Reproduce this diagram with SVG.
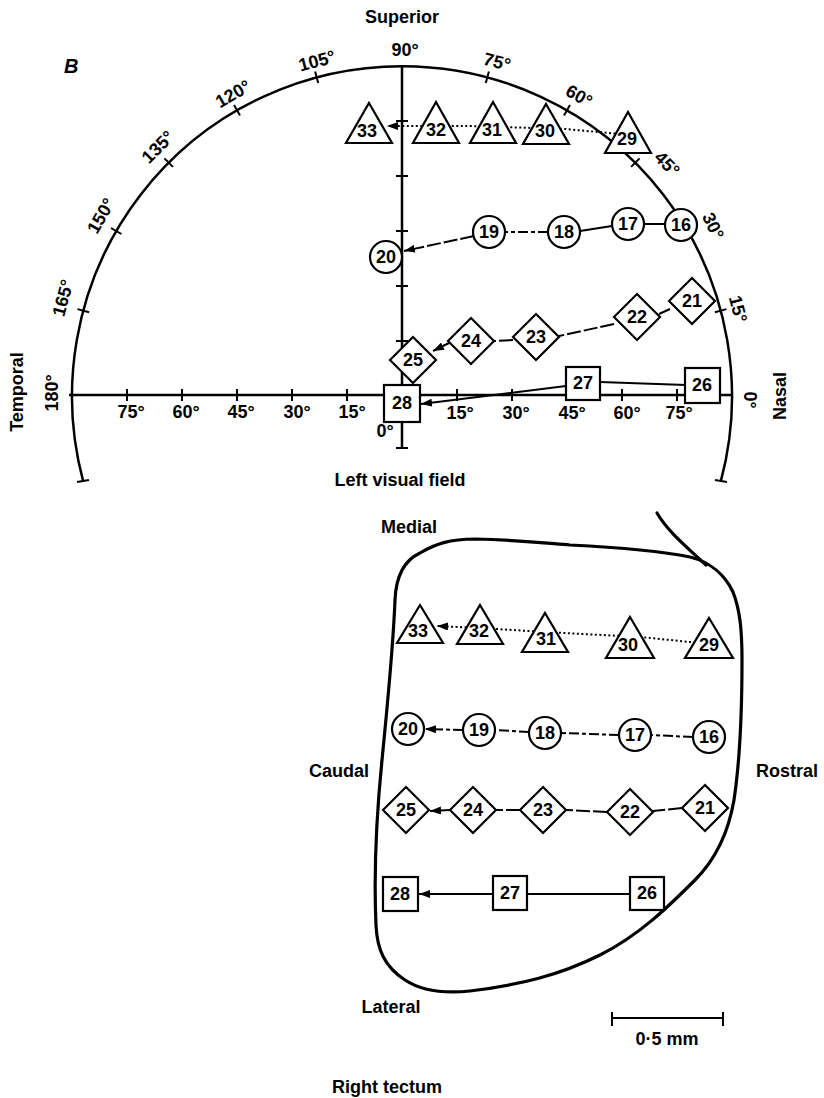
<svg xmlns="http://www.w3.org/2000/svg" width="824" height="1098" viewBox="0 0 824 1098">
<defs>
<style>
.t{font-family:"Liberation Sans",Arial,sans-serif;font-weight:bold;fill:#000}
.lbl{font-size:18px}
.deg{font-size:18px;text-anchor:middle;dominant-baseline:central}
.num{font-size:18px;text-anchor:middle;dominant-baseline:central}
.node{fill:#fff;stroke:#000;stroke-width:2.2}
.ax{stroke:#000;stroke-width:2.5;fill:none}
.tick{stroke:#000;stroke-width:2;fill:none}
.con{stroke:#000;stroke-width:2;fill:none}
.dot{stroke-dasharray:2 2.5}
.dd{stroke-dasharray:10 3 4 3}
.da{stroke-dasharray:14 3}
.outline{stroke:#000;stroke-width:3.2;fill:none;stroke-linejoin:round;stroke-linecap:round}
</style>
<marker id="ah" markerUnits="userSpaceOnUse" markerWidth="11" markerHeight="8" refX="11" refY="4" orient="auto">
<path d="M0,0 L11,4 L0,8 z" fill="#000"/>
</marker>
</defs>
<rect width="824" height="1098" fill="#fff"/>

<!-- Visual field chart -->
<g id="field-chart">
<path class="ax" d="M83.2,481.4 A330,330 0 1 1 720.8,481.4"/>
<line class="ax" x1="69" y1="395" x2="732" y2="395"/>
<line class="ax" x1="402" y1="66" x2="402" y2="448"/>
<g class="tick">
<line x1="396" y1="448" x2="408" y2="448"/>
<line x1="77" y1="482" x2="89" y2="480"/>
<line x1="715" y1="480" x2="727" y2="482"/>
<line x1="396" y1="121" x2="408" y2="121"/>
<line x1="396" y1="176" x2="408" y2="176"/>
<line x1="396" y1="231" x2="408" y2="231"/>
<line x1="396" y1="286" x2="408" y2="286"/>
<line x1="396" y1="341" x2="408" y2="341"/>
<line x1="127" y1="389" x2="127" y2="401"/>
<line x1="182" y1="389" x2="182" y2="401"/>
<line x1="237" y1="389" x2="237" y2="401"/>
<line x1="292" y1="389" x2="292" y2="401"/>
<line x1="347" y1="389" x2="347" y2="401"/>
<line x1="457" y1="389" x2="457" y2="401"/>
<line x1="512" y1="389" x2="512" y2="401"/>
<line x1="567" y1="389" x2="567" y2="401"/>
<line x1="622" y1="389" x2="622" y2="401"/>
<line x1="677" y1="389" x2="677" y2="401"/>
<line x1="714.9" y1="312.2" x2="726.5" y2="309.1"/>
<line x1="682.6" y1="234" x2="693" y2="228"/>
<line x1="631.1" y1="166.9" x2="639.6" y2="158.4"/>
<line x1="564" y1="115.4" x2="570" y2="105"/>
<line x1="485.8" y1="83.1" x2="488.9" y2="71.5"/>
<line x1="318.2" y1="83.1" x2="315.1" y2="71.5"/>
<line x1="240" y1="115.4" x2="234" y2="105"/>
<line x1="172.9" y1="166.9" x2="164.4" y2="158.4"/>
<line x1="121.4" y1="234" x2="111" y2="228"/>
<line x1="89.1" y1="312.2" x2="77.5" y2="309.1"/>
</g>
<g class="t deg">
<text x="405" y="50">90°</text>
<text transform="translate(317,61) rotate(-15)">105°</text>
<text transform="translate(233,94) rotate(-30)">120°</text>
<text transform="translate(158,147) rotate(-45)">135°</text>
<text transform="translate(101,216) rotate(-60)">150°</text>
<text transform="translate(63,298) rotate(-75)">165°</text>
<text transform="translate(52,393) rotate(-90)">180°</text>
<text transform="translate(497,62) rotate(15)">75°</text>
<text transform="translate(579,96) rotate(30)">60°</text>
<text transform="translate(667,164) rotate(45)">45°</text>
<text transform="translate(713,226) rotate(65)">30°</text>
<text transform="translate(738,309) rotate(75)">15°</text>
<text transform="translate(750,400) rotate(90)">0°</text>
<text x="131" y="412">75°</text>
<text x="186" y="412">60°</text>
<text x="241" y="412">45°</text>
<text x="297" y="412">30°</text>
<text x="352" y="412">15°</text>
<text x="460" y="413">15°</text>
<text x="516" y="413">30°</text>
<text x="572" y="413">45°</text>
<text x="627" y="413">60°</text>
<text x="679" y="413">75°</text>
<text x="385" y="431">0°</text>
</g>
<text class="t lbl" x="402" y="23" text-anchor="middle">Superior</text>
<text class="t" x="64" y="73" font-size="20" font-style="italic">B</text>
<text class="t lbl" text-anchor="middle" dominant-baseline="central" transform="translate(17,392) rotate(-90)">Temporal</text>
<text class="t lbl" text-anchor="middle" dominant-baseline="central" transform="translate(780,396) rotate(-90)">Nasal</text>
<text class="t lbl" x="400" y="486" text-anchor="middle">Left visual field</text>
</g>

<!-- Tectum outline -->
<g id="tectum-outline">
<path class="outline" d="M395,600 C396,575 405,560 420,553 C435,544 450,539 475,539 C520,540 545,543 570,545 C610,547 660,551 690,557 C710,562 725,575 733,592 C740,610 742,630 742,660 C742,710 740,760 734,800 C728,835 715,860 695,880 C670,905 640,935 600,955 C560,975 520,985 470,991 C440,994 420,990 405,980 C385,967 377,950 376,925 C374,880 376,820 382,760 C388,700 393,650 395,600 Z"/>
<path class="outline" d="M657,513 C668,532 688,548 706,565"/>
<text class="t lbl" x="409" y="533" text-anchor="middle">Medial</text>
<text class="t lbl" x="339" y="777" text-anchor="middle">Caudal</text>
<text class="t lbl" x="787" y="777" text-anchor="middle">Rostral</text>
<text class="t lbl" x="391" y="1013" text-anchor="middle">Lateral</text>
<g class="tick">
<line x1="612" y1="1018" x2="723" y2="1018"/>
<line x1="612" y1="1012" x2="612" y2="1026"/>
<line x1="723" y1="1012" x2="723" y2="1026"/>
</g>
<text class="t lbl" x="667" y="1045" text-anchor="middle">0·5 mm</text>
<text class="t lbl" x="387" y="1093" text-anchor="middle">Right tectum</text>
</g>

<!-- Connectors -->
<g id="connectors">
<path class="con dot" d="M620,134 L565,129 L470,126 L387,126" marker-end="url(#ah)"/>
<line class="con" x1="665" y1="224" x2="644" y2="224"/>
<line class="con" x1="612" y1="226" x2="580" y2="231"/>
<line class="con dd" x1="548" y1="232" x2="505" y2="232"/>
<line class="con da" x1="474" y1="236" x2="404" y2="251" marker-end="url(#ah)"/>
<line class="con da" x1="670" y1="309" x2="659" y2="314"/>
<line class="con da" x1="614" y1="324" x2="559" y2="336"/>
<line class="con da" x1="513" y1="340" x2="494" y2="341"/>
<line class="con" x1="449" y1="343" x2="433" y2="351" marker-end="url(#ah)"/>
<line class="con" x1="686" y1="385" x2="600" y2="382"/>
<line class="con" x1="566" y1="386" x2="421" y2="404" marker-end="url(#ah)"/>

<path class="con dot" d="M700,643 L640,637 L545,632 L480,628 L437,626" marker-end="url(#ah)"/>
<line class="con dd" x1="693" y1="737" x2="651" y2="735"/>
<line class="con dd" x1="619" y1="735" x2="561" y2="733"/>
<line class="con dd" x1="529" y1="732" x2="495" y2="730"/>
<line class="con dd" x1="463" y1="730" x2="425" y2="729" marker-end="url(#ah)"/>
<line class="con da" x1="682" y1="808" x2="653" y2="811"/>
<line class="con da" x1="607" y1="812" x2="566" y2="810"/>
<line class="con da" x1="520" y1="810" x2="496" y2="810"/>
<line class="con" x1="450" y1="810" x2="430" y2="811" marker-end="url(#ah)"/>
<line class="con" x1="630" y1="894" x2="527" y2="894"/>
<line class="con" x1="493" y1="894" x2="419" y2="894" marker-end="url(#ah)"/>
</g>

<!-- Field nodes -->
<g id="f33"><path class="node" d="M369,103 L392,143 L346,143 Z"/><text class="t num" x="367" y="131">33</text></g>
<g id="f32"><path class="node" d="M436,102 L459,143 L413,143 Z"/><text class="t num" x="436" y="130">32</text></g>
<g id="f31"><path class="node" d="M493,102 L516,143 L470,143 Z"/><text class="t num" x="492" y="130">31</text></g>
<g id="f30"><path class="node" d="M546,104 L569,144 L523,144 Z"/><text class="t num" x="545" y="131">30</text></g>
<g id="f29"><path class="node" d="M628,112 L651,153 L605,153 Z"/><text class="t num" x="627" y="139">29</text></g>
<g id="f16"><circle class="node" cx="681" cy="225" r="16"/><text class="t num" x="681" y="225">16</text></g>
<g id="f17"><circle class="node" cx="628" cy="224" r="16"/><text class="t num" x="628" y="224">17</text></g>
<g id="f18"><circle class="node" cx="564" cy="232" r="16"/><text class="t num" x="564" y="232">18</text></g>
<g id="f19"><circle class="node" cx="489" cy="232" r="16"/><text class="t num" x="489" y="232">19</text></g>
<g id="f20"><circle class="node" cx="386" cy="257" r="16"/><text class="t num" x="386" y="257">20</text></g>
<g id="f21"><path class="node" d="M692,278 L715,301 L692,324 L669,301 Z"/><text class="t num" x="692" y="301">21</text></g>
<g id="f22"><path class="node" d="M637,294 L660,317 L637,340 L614,317 Z"/><text class="t num" x="637" y="317">22</text></g>
<g id="f23"><path class="node" d="M536,314 L559,337 L536,360 L513,337 Z"/><text class="t num" x="536" y="337">23</text></g>
<g id="f24"><path class="node" d="M471,318 L494,341 L471,364 L448,341 Z"/><text class="t num" x="471" y="341">24</text></g>
<g id="f25"><path class="node" d="M413,337 L436,360 L413,383 L390,360 Z"/><text class="t num" x="413" y="360">25</text></g>
<g id="f26"><rect class="node" x="685" y="368" width="35" height="35"/><text class="t num" x="702" y="385">26</text></g>
<g id="f27"><rect class="node" x="566" y="367" width="34" height="33"/><text class="t num" x="583" y="383">27</text></g>
<g id="f28"><rect class="node" x="384" y="385" width="36" height="37"/><text class="t num" x="402" y="403">28</text></g>

<!-- Tectum nodes -->
<g id="t33"><path class="node" d="M420,605 L443,643 L397,643 Z"/><text class="t num" x="418" y="631">33</text></g>
<g id="t32"><path class="node" d="M480,605 L503,644 L457,644 Z"/><text class="t num" x="479" y="631">32</text></g>
<g id="t31"><path class="node" d="M545,613 L568,652 L522,652 Z"/><text class="t num" x="546" y="639">31</text></g>
<g id="t30"><path class="node" d="M630,617 L654,658 L606,658 Z"/><text class="t num" x="628" y="645">30</text></g>
<g id="t29"><path class="node" d="M709,618 L733,658 L685,658 Z"/><text class="t num" x="709" y="645">29</text></g>
<g id="t20"><circle class="node" cx="408" cy="729" r="16"/><text class="t num" x="408" y="729">20</text></g>
<g id="t19"><circle class="node" cx="479" cy="730" r="16"/><text class="t num" x="479" y="730">19</text></g>
<g id="t18"><circle class="node" cx="545" cy="733" r="16"/><text class="t num" x="545" y="733">18</text></g>
<g id="t17"><circle class="node" cx="635" cy="735" r="16"/><text class="t num" x="635" y="735">17</text></g>
<g id="t16"><circle class="node" cx="709" cy="737" r="16"/><text class="t num" x="709" y="737">16</text></g>
<g id="t25"><path class="node" d="M406,787 L429,810 L406,833 L383,810 Z"/><text class="t num" x="406" y="810">25</text></g>
<g id="t24"><path class="node" d="M473,787 L496,810 L473,833 L450,810 Z"/><text class="t num" x="473" y="810">24</text></g>
<g id="t23"><path class="node" d="M543,787 L566,810 L543,833 L520,810 Z"/><text class="t num" x="543" y="810">23</text></g>
<g id="t22"><path class="node" d="M630,789 L653,812 L630,835 L607,812 Z"/><text class="t num" x="630" y="812">22</text></g>
<g id="t21"><path class="node" d="M705,785 L728,808 L705,831 L682,808 Z"/><text class="t num" x="705" y="808">21</text></g>
<g id="t28"><rect class="node" x="383" y="877" width="35" height="34"/><text class="t num" x="400" y="894">28</text></g>
<g id="t27"><rect class="node" x="493" y="876" width="34" height="34"/><text class="t num" x="510" y="893">27</text></g>
<g id="t26"><rect class="node" x="630" y="877" width="34" height="33"/><text class="t num" x="647" y="893">26</text></g>
</svg>
